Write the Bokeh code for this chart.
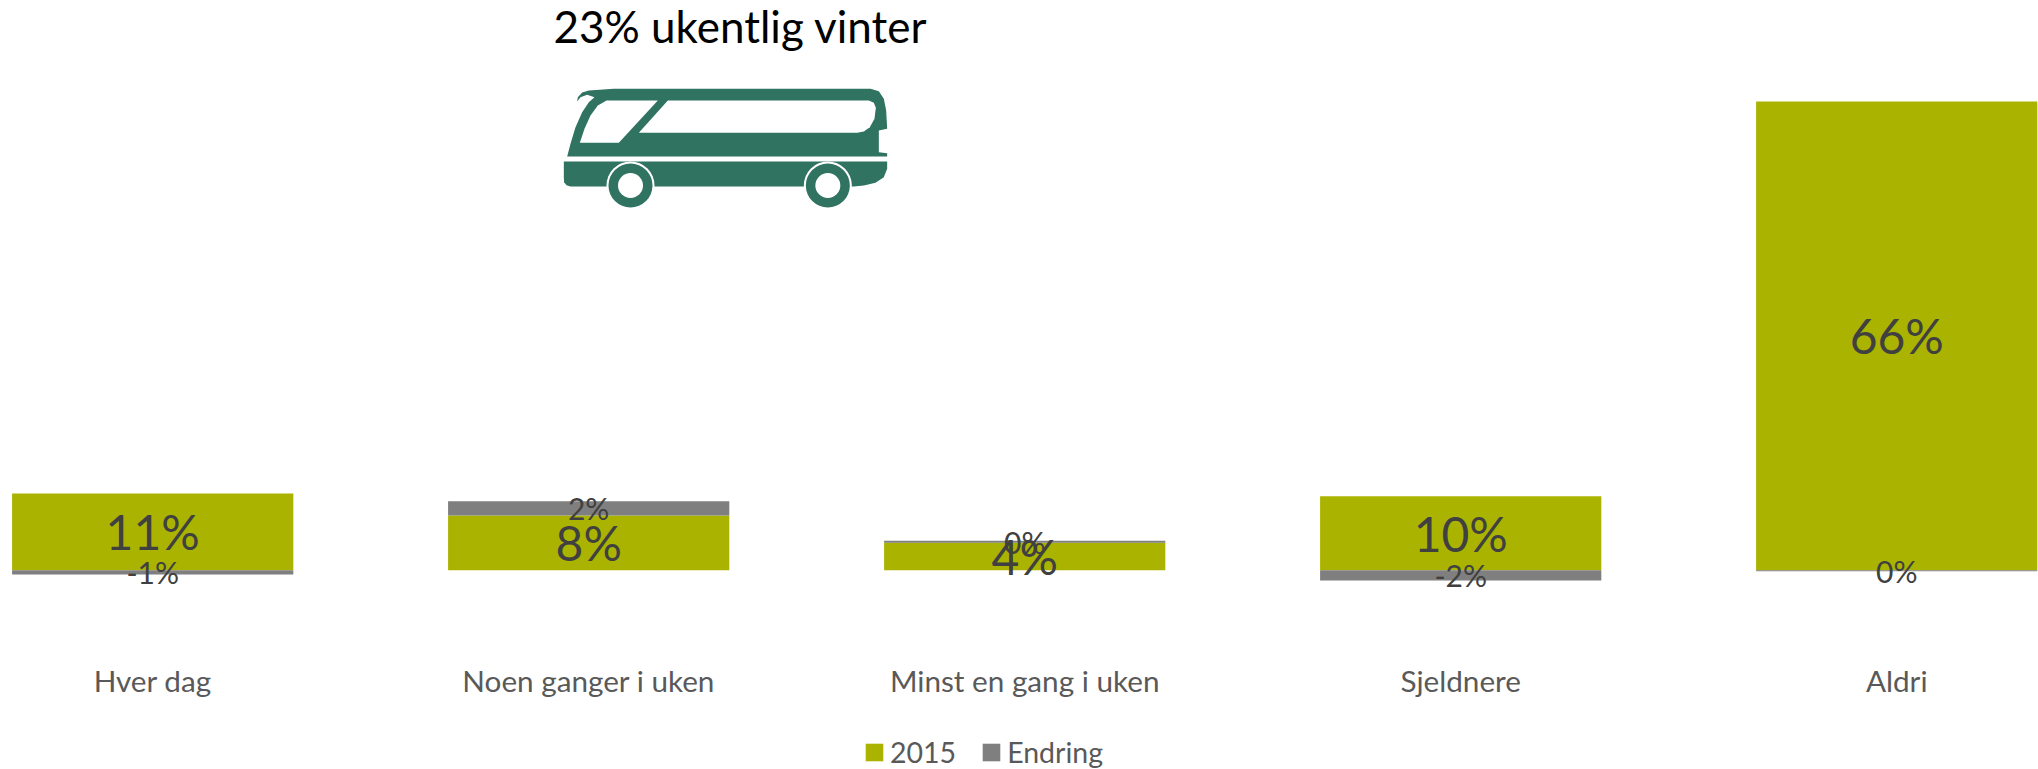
from bokeh.plotting import figure
from bokeh.models import ColumnDataSource, Range1d, FixedTicker, Legend, LegendItem, Label
from bokeh.core.properties import value
from bokeh.embed import file_html
from bokeh.resources import INLINE

categories = ["Hver dag", "Noen ganger i uken", "Minst en gang i uken", "Sjeldnere", "Aldri"]
values_2015 = [10.8, 7.7, 3.86, 10.4, 66.0]
values_endring = [-0.6, 2.0, 0.3, -1.45, -0.15]
labels_2015 = ["11%", "8%", "4%", "10%", "66%"]
labels_endring = ["-1%", "2%", "0%", "-2%", "0%"]
FONT = "Lato"

# Pictogram outlines (icon units: 3 per pixel)
bus_top_x = [140, 150, 165, 185, 205, 222, 200, 180, 170, 172, 185, 205, 280, 1050, 1075, 1090, 1097, 1100, 1075, 1075, 1100, 1100]
bus_top_y = [468, 430, 380, 335, 305, 290, 283, 290, 303, 290, 276, 270, 265, 265, 272, 295, 330, 385, 390, 455, 458, 468]
bus_bottom_x = [130, 1100, 1100, 1090, 1065, 1030, 1000, 150, 138, 131, 130]
bus_bottom_y = [483, 483, 505, 530, 547, 555, 558, 558, 554, 545, 530]
wind_x = [178, 192, 210, 232, 258, 412, 295]
wind_y = [427, 385, 345, 315, 300, 300, 427]
side_x = [355, 442, 1045, 1060, 1066, 1062, 1048, 1030, 1010]
side_y = [397, 300, 300, 307, 322, 355, 380, 393, 397]
wheel_x = [330, 922]
wheel_y = [555, 555]

W, H = 2038, 769
p = figure(width=W, height=H, output_backend="svg", toolbar_location=None,
           x_range=Range1d(-0.34906, 4.3252), y_range=Range1d(-28.07, 80.24),
           min_border=0, outline_line_color=None, background_fill_color="white", border_fill_color="white")
p.extra_x_ranges = {"icon": Range1d(-520 * 3, (2038 - 520) * 3)}
p.extra_y_ranges = {"icon": Range1d(769 * 3, 0)}
p.grid.visible = False
p.yaxis.visible = False

xs = list(range(len(categories)))
base = [v if e >= 0 else 0 for v, e in zip(values_2015, values_endring)]
src_a = ColumnDataSource(dict(x=xs, top=values_2015, bottom=[0] * 5, lab=labels_2015,
                              mid=[v / 2 for v in values_2015]))
src_b = ColumnDataSource(dict(x=xs, top=[b + max(e, 0) for b, e in zip(base, values_endring)],
                              bottom=[b + min(e, 0) for b, e in zip(base, values_endring)],
                              lab=labels_endring,
                              mid=[b + e / 2 for b, e in zip(base, values_endring)]))
WIDTH = 0.645
r1 = p.vbar(x="x", top="top", bottom="bottom", width=WIDTH, source=src_a, fill_color="#AAB400", line_color=None)
r2 = p.vbar(x="x", top="top", bottom="bottom", width=WIDTH, source=src_b, fill_color="#7F7F7F", line_color=None)
p.text(x="x", y="mid", text="lab", source=src_a, text_font=value(FONT), text_font_size="48px",
       text_color="#404040", text_align="center", text_baseline="middle")
p.text(x="x", y="mid", text="lab", source=src_b, text_font=value(FONT), text_font_size="30px",
       text_color="#404040", text_align="center", text_baseline="middle")

ax = p.xaxis[0]
ax.ticker = FixedTicker(ticks=xs)
ax.major_label_overrides = {i: c for i, c in enumerate(categories)}
ax.axis_line_color = None
ax.major_tick_line_color = None
ax.minor_tick_line_color = None
ax.major_label_text_font = FONT
ax.major_label_text_font_size = "29.7px"
ax.major_label_text_color = "#595959"
ax.fixed_location = -12.2
ax.major_label_standoff = 0

k = dict(x_range_name="icon", y_range_name="icon")
p.patch(bus_top_x, bus_top_y, fill_color="#2F7360", line_color=None, **k)
p.patch(bus_bottom_x, bus_bottom_y, fill_color="#2F7360", line_color=None, **k)
p.patch(wind_x, wind_y, fill_color="white", line_color=None, **k)
p.patch(side_x, side_y, fill_color="white", line_color=None, **k)
p.scatter(wheel_x, wheel_y, size=48, marker="circle", fill_color="white", line_color=None, **k)
p.scatter(wheel_x, wheel_y, size=44, marker="circle", fill_color="#2F7360", line_color=None, **k)
p.scatter(wheel_x, wheel_y, size=25, marker="circle", fill_color="white", line_color=None, **k)

p.add_layout(Label(x=740, y=H - 25, x_units="screen", y_units="screen", text="23% ukentlig vinter",
                   text_font=FONT, text_font_size="44px", text_color="black",
                   text_align="center", text_baseline="middle"))

legend = Legend(items=[LegendItem(label="2015", renderers=[r1]), LegendItem(label="Endring", renderers=[r2])],
                orientation="horizontal", location=(863, 0), padding=0, margin=0, spacing=24,
                glyph_width=22, glyph_height=22, label_standoff=5, border_line_color=None,
                background_fill_alpha=0, label_text_font=FONT, label_text_font_size="28.5px",
                label_text_color="#595959")
p.add_layout(legend)

open("out.html", "w").write(file_html(p, INLINE))
